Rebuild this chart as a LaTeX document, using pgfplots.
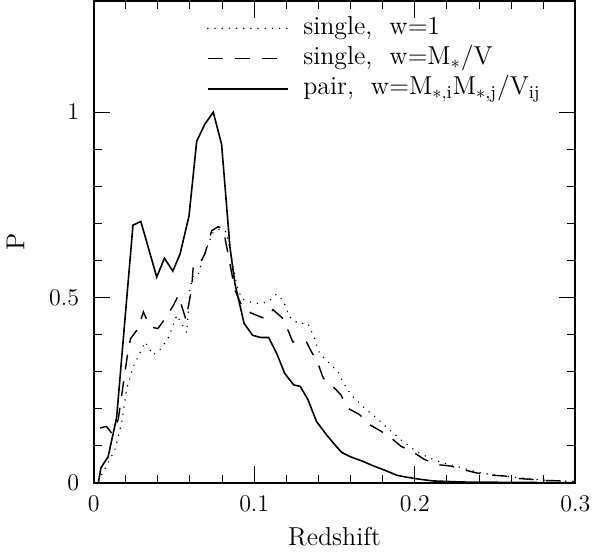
\documentclass[border=0pt]{standalone}
\usepackage{fontspec}
\usepackage{pgfplots}
\pgfplotsset{compat=1.18}
\newcommand{\labfont}{\addfontfeatures{LetterSpace=12}\fontsize{13}{15}\selectfont}
\begin{document}
\begin{tikzpicture}
\begin{axis}[
  scale only axis,
  width=241.7pt, height=241.7pt,
  xmin=0, xmax=0.3, ymin=0, ymax=1.3,
  xtick={0,0.1,0.2,0.3}, ytick={0,0.5,1},
  minor x tick num=4, minor y tick num=4,
  xtick pos=both, ytick pos=both,
  tick align=inside,
  major tick length=8.3pt, minor tick length=4pt,
  every tick/.style={black, line width=0.5pt},
  axis line style={line width=1pt},
  tick label style={font=\fontsize{12.5}{14}\selectfont},
  xticklabel style={yshift=-3.3pt},
  yticklabel style={xshift=-3.8pt},
  xlabel={Redshift}, ylabel={P},
  every axis x label/.style={at={([yshift=-27pt]rel axis cs:0.5,0)}, anchor=center, font=\labfont},
  every axis y label/.style={at={([xshift=-39.2pt]rel axis cs:0,0.5)}, anchor=center, rotate=90, font=\labfont},
  legend cell align=left,
  legend image code/.code={\draw[#1] (0pt,0pt) -- (40pt,0pt);},
  legend style={draw=none, fill=none, inner sep=0pt, font=\labfont,
    at={(rel axis cs:0.2346,1)}, anchor=north west, yshift=-7pt,
    nodes={inner sep=0.5pt, text height=9pt, text depth=3pt},
    row sep=2.2pt,
    /tikz/every odd column/.append style={column sep=7pt}},
]
\addplot[black, line width=0.8pt, line cap=round, dash pattern=on 0pt off 3.6pt] coordinates {
(0.003,0.005) (0.0102,0.063) (0.0133,0.09) (0.0174,0.161) (0.0205,0.251)
(0.0246,0.313) (0.0277,0.34) (0.032,0.38) (0.037,0.345) (0.0412,0.358)
(0.0464,0.39) (0.0518,0.452) (0.058,0.405) (0.06,0.524) (0.062,0.56)
(0.0652,0.564) (0.0683,0.609) (0.0714,0.645) (0.0745,0.676) (0.0786,0.685)
(0.0828,0.676) (0.089,0.537) (0.092,0.497) (0.0973,0.488) (0.1035,0.483)
(0.1086,0.488) (0.1138,0.509) (0.118,0.492) (0.122,0.448) (0.1273,0.43)
(0.1335,0.43) (0.1376,0.389) (0.1407,0.349) (0.147,0.322) (0.153,0.295)
(0.155,0.273) (0.1604,0.237) (0.1676,0.206) (0.176,0.175) (0.1842,0.143)
(0.1924,0.112) (0.2007,0.085) (0.209,0.067) (0.2173,0.054) (0.2256,0.045)
(0.235,0.033) (0.245,0.024) (0.26,0.016) (0.28,0.007) (0.3,0.003)
};
\addlegendentry{single,\ \ w=1}
\addplot[black, line width=0.7pt, dash pattern=on 7.5pt off 6pt] coordinates {
(0.004,0.148) (0.008,0.152) (0.0112,0.134) (0.0153,0.17) (0.0215,0.358)
(0.023,0.389) (0.0277,0.416) (0.031,0.461) (0.035,0.421) (0.040,0.416)
(0.0453,0.448) (0.0497,0.479) (0.0528,0.506) (0.0575,0.44) (0.061,0.524)
(0.062,0.582) (0.0652,0.584) (0.0693,0.618) (0.0735,0.68) (0.0776,0.691)
(0.0807,0.685) (0.088,0.52) (0.092,0.48) (0.098,0.458) (0.1066,0.443)
(0.1117,0.467) (0.118,0.443) (0.121,0.412) (0.124,0.38) (0.1325,0.38)
(0.1356,0.354) (0.1397,0.322) (0.143,0.282) (0.149,0.26) (0.154,0.237)
(0.1583,0.201) (0.1656,0.184) (0.1718,0.157) (0.179,0.139) (0.1852,0.121)
(0.1914,0.0985) (0.1997,0.0806) (0.206,0.063) (0.214,0.049) (0.2225,0.045)
(0.2297,0.036) (0.238,0.027) (0.246,0.021) (0.2566,0.018) (0.263,0.012)
(0.273,0.009) (0.2814,0.006) (0.294,0.005) (0.3,0.003)
};
\addlegendentry{single,\ \ w=M$_{*}$/V}
\addplot[black, line width=0.8pt] coordinates {
(0.003,0) (0.0045,0.04) (0.009,0.07) (0.0143,0.175) (0.0245,0.695)
(0.0294,0.705) (0.0393,0.555) (0.0441,0.606) (0.0493,0.571) (0.0538,0.617)
(0.0594,0.72) (0.0642,0.922) (0.0693,0.968) (0.0745,1.0) (0.0797,0.913)
(0.0849,0.635) (0.088,0.537) (0.0937,0.43) (0.099,0.398) (0.104,0.392)
(0.109,0.392) (0.114,0.349) (0.119,0.295) (0.1246,0.264) (0.1287,0.26)
(0.1335,0.224) (0.1387,0.166) (0.1449,0.13) (0.151,0.0985) (0.1545,0.082)
(0.16,0.07) (0.1676,0.058) (0.174,0.046) (0.18,0.036) (0.189,0.02)
(0.195,0.015) (0.2007,0.011) (0.211,0.005) (0.23,0.002) (0.26,0.001) (0.3,0)
};
\addlegendentry{pair,\ \ w=M$_{*,\mathrm{i}}$M$_{*,\mathrm{j}}$/V$_{\mathrm{ij}}$}
\end{axis}
\end{tikzpicture}
\end{document}
